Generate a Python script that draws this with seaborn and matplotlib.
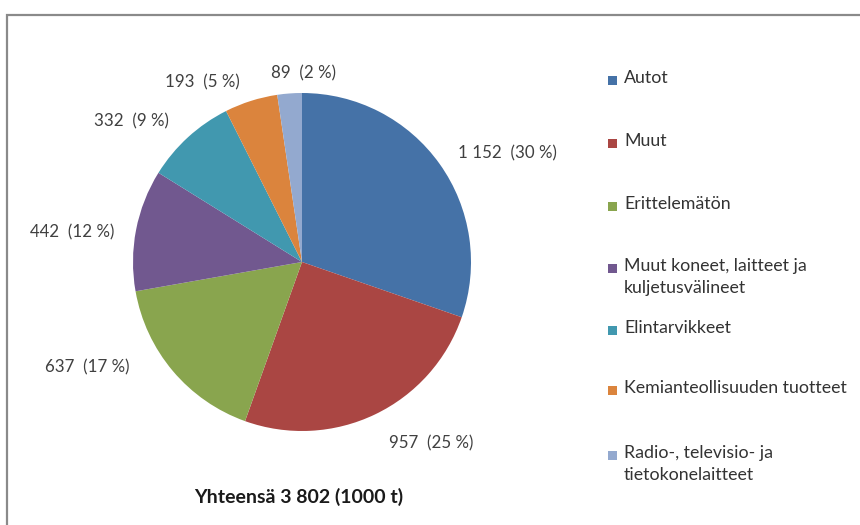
import matplotlib
matplotlib.use("Agg")
import matplotlib.pyplot as plt
import matplotlib.patches as mpatches
import seaborn as sns

# Data
categories = ["Autot", "Muut", "Erittelemätön", "Muut koneet, laitteet ja\nkuljetusvälineet",
              "Elintarvikkeet", "Kemianteollisuuden tuotteet", "Radio-, televisio- ja\ntietokonelaitteet"]
values = [1152, 957, 637, 442, 332, 193, 89]
value_labels = ["1 152", "957", "637", "442", "332", "193", "89"]
pct_labels = ["30 %", "25 %", "17 %", "12 %", "9 %", "5 %", "2 %"]
title = "Yhteensä 3 802 (1000 t)"

colors = sns.color_palette(["#4572A7", "#AA4643", "#89A54E", "#71588F", "#4198AF", "#DB843D", "#93A9CF"])

sns.set_theme(style="white")
plt.rcParams["font.family"] = ["Lato", "DejaVu Sans"]

W, H = 860, 525
fig = plt.figure(figsize=(W / 100, H / 100), dpi=100)

# outer chart frame (runs off the right and bottom edge)
fig.patches.append(mpatches.Rectangle((7 / W, -0.05), 1.1, 1 - 15 / H + 0.05, transform=fig.transFigure,
                                      fill=False, edgecolor="#8a8a8a", linewidth=1.6))

# pie area: centre (302, 262), radius 169 px
r = 169
ax = fig.add_axes([(302 - r) / W, (H - 262 - r) / H, 2 * r / W, 2 * r / H])
wedges, _ = ax.pie(values, colors=colors, startangle=90, counterclock=False,
                   wedgeprops=dict(linewidth=0))
ax.set_xlim(-1, 1)
ax.set_ylim(-1, 1)
ax.set_aspect("equal")
ax.axis("off")

# data labels (text positions in pie units)
label_pos = [(1.213, 0.645), (0.763, -1.071), (-1.272, -0.621), (-1.361, 0.178),
             (-1.01, 0.834), (-0.592, 1.065), (0.006, 1.118)]
for (x, y), v, p in zip(label_pos, value_labels, pct_labels):
    ax.text(x, y, f"{v}  ({p})", ha="center", va="center", fontsize=12.2, color="#404040", clip_on=False)

# legend
first_line_y = [80, 143, 206, 268, 330, 390, 455]
for w, lab, yy in zip(wedges, categories, first_line_y):
    fig.patches.append(mpatches.Rectangle((608 / W, 1 - (yy + 4.5) / H), 9 / W, 9 / H,
                                          transform=fig.transFigure, facecolor=w.get_facecolor(),
                                          edgecolor="none"))
    fig.text(624 / W, 1 - (yy - 10) / H, lab, ha="left", va="top", fontsize=12.8,
             color="#333333", linespacing=1.5)

fig.text(299 / W, 1 - 497 / H, title, ha="center", va="center", fontsize=14, fontweight="bold", color="#1a1a1a")

fig.savefig("out.png", dpi=100)
